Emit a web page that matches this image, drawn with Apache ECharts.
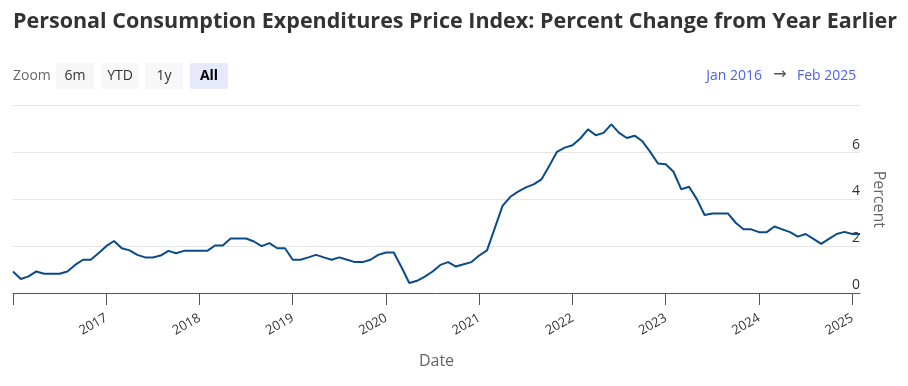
<!DOCTYPE html>
<html><head><meta charset="utf-8">
<script src="https://cdn.jsdelivr.net/npm/echarts@6/dist/echarts.min.js"></script>
<style>html,body{margin:0;padding:0;background:#fff}#c{width:908px;height:386px}</style>
</head><body><div id="c"></div>
<script>
var startYear = 2016, startMonth = 1;
var pceYoY = [
0.92,0.60,0.71,0.92,0.82,0.82,0.82,0.92,1.20,1.42,1.42,1.70,
2.00,2.22,1.91,1.82,1.63,1.52,1.52,1.60,1.80,1.70,1.80,1.80,
1.80,1.80,2.03,2.03,2.33,2.33,2.33,2.20,2.00,2.13,1.91,1.91,
1.42,1.42,1.52,1.63,1.52,1.42,1.52,1.42,1.32,1.32,1.42,1.63,
1.73,1.73,1.10,0.43,0.52,0.70,0.92,1.20,1.32,1.13,1.23,1.32,
1.60,1.82,2.77,3.72,4.11,4.33,4.51,4.64,4.85,5.42,6.03,6.21,
6.31,6.60,6.99,6.74,6.84,7.20,6.84,6.62,6.72,6.48,6.03,5.53,
5.50,5.18,4.43,4.54,4.01,3.33,3.40,3.40,3.40,3.00,2.72,2.72,
2.60,2.60,2.84,2.72,2.60,2.41,2.52,2.31,2.10,2.31,2.52,2.61,
2.52,2.52
];
var yTicks = [0, 2, 4, 6, 8];
var zoomButtons = ['6m', 'YTD', '1y', 'All'];
var rangeFrom = 'Jan 2016', rangeTo = 'Feb 2025';
var titleText = 'Personal Consumption Expenditures Price Index: Percent Change from Year Earlier';

var categories = [];
for (var i = 0; i < pceYoY.length; i++) {
  var m = startMonth - 1 + i;
  var y = startYear + Math.floor(m / 12);
  var mm = (m % 12) + 1;
  categories.push(y + '-' + (mm < 10 ? '0' + mm : mm));
}

var FONT = 'Open Sans';
var chart = echarts.init(document.getElementById('c'), null, {renderer: 'canvas'});

var graphics = [{
  type: 'text', x: 13, y: 76,
  style: {text: 'Zoom', fill: '#666', verticalAlign: 'middle', font: '14px "Open Sans"'}
}];
var bx = [56, 101, 145, 190];
zoomButtons.forEach(function (b, k) {
  var active = b === 'All';
  graphics.push({
    type: 'rect', shape: {x: bx[k], y: 63, width: 38, height: 26, r: 2},
    style: {fill: active ? '#e6e8fb' : '#f7f7f7'}
  });
  graphics.push({
    type: 'text', x: bx[k] + 19, y: 76,
    style: {text: b, fill: active ? '#000' : '#333', align: 'center', verticalAlign: 'middle',
      font: (active ? 'bold ' : '') + '14px "Open Sans"'}
  });
});
graphics.push({type: 'text', x: 762, y: 76,
  style: {text: rangeFrom, fill: '#4b61ec', align: 'right', verticalAlign: 'middle', font: '14px "Open Sans"'}});
graphics.push({type: 'text', x: 780, y: 75,
  style: {text: '\u2192', fill: '#555', align: 'center', verticalAlign: 'middle', font: '16px "DejaVu Sans"'}});
graphics.push({type: 'text', x: 797, y: 76,
  style: {text: rangeTo, fill: '#4b61ec', align: 'left', verticalAlign: 'middle', font: '14px "Open Sans"'}});

chart.setOption({
  animation: false,
  title: {
    text: titleText, left: 8, top: 6,
    textStyle: {fontFamily: FONT, fontSize: 21.5, fontWeight: 'bold', color: '#333'}
  },
  graphic: graphics,
  grid: {left: 13, right: 48, top: 105.7, bottom: 93},
  xAxis: {
    type: 'category', data: categories, boundaryGap: false,
    name: 'Date', nameLocation: 'middle', nameGap: 60,
    nameTextStyle: {fontFamily: FONT, fontSize: 16, color: '#666'},
    axisLine: {lineStyle: {color: '#555', width: 1}},
    axisTick: {length: 12, lineStyle: {color: '#555'}, interval: function (idx) { return idx % 12 === 0; }},
    axisLabel: {
      interval: function (idx) { return idx % 12 === 0 && idx > 0; },
      formatter: function (v) { return v.slice(0, 4); },
      rotate: 30, margin: 24, fontFamily: FONT, fontSize: 13, color: '#333'
    },
    splitLine: {show: false}
  },
  yAxis: {
    type: 'value', position: 'right', min: yTicks[0], max: yTicks[yTicks.length - 1], interval: 2,
    name: 'Percent', nameLocation: 'middle', nameGap: 9, nameRotate: -90,
    nameTextStyle: {fontFamily: FONT, fontSize: 16, color: '#666'},
    axisLine: {show: false}, axisTick: {show: false},
    axisLabel: {inside: true, margin: 0, showMaxLabel: false, verticalAlign: 'bottom',
      padding: [0, 0, 1, 0], fontFamily: FONT, fontSize: 14, color: '#333'},
    splitLine: {lineStyle: {color: '#e6e6e6', width: 1}}
  },
  series: [{
    type: 'line', data: pceYoY, showSymbol: false,
    lineStyle: {color: '#0b4a89', width: 2}, itemStyle: {color: '#0b4a89'}
  }]
});
</script></body></html>
